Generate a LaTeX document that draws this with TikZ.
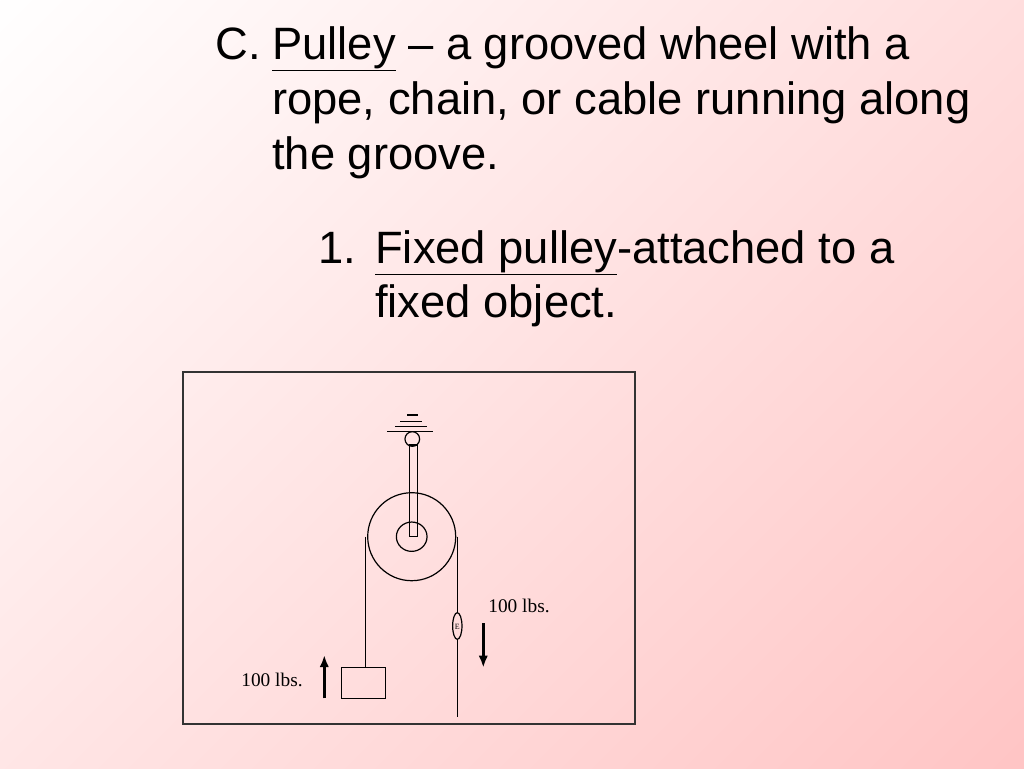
\documentclass[tikz,border=0pt]{standalone}
\usepackage{fontspec}
\usetikzlibrary{shapes.geometric,arrows.meta}
\setmainfont{Liberation Sans}
\newfontfamily\lblfont{Liberation Serif}
\definecolor{bgpink}{RGB}{255,196,196}
\begin{document}
\begin{tikzpicture}[x=0.75pt,y=-0.75pt,
  title/.style={anchor=base west,inner sep=0pt,font=\fontsize{34}{40}\selectfont},
  lbl/.style={inner sep=0pt,font=\lblfont\fontsize{14.5}{16}\selectfont},
  ln/.style={draw=black,line width=0.9pt}]
\useasboundingbox (0,0) rectangle (1024,768);
\shade[left color=white,right color=bgpink,shading angle=45] (-200,-200) rectangle (1224,968);
\node[title] (c) at (215,59) {C.};
\node[title] (t1) at (272,59) {\underline{Pulley} – a grooved wheel with a};
\node[title] (t2) at (272,114) {rope, chain, or cable running along};
\node[title] (t3) at (272,169) {the groove.};
\node[title] (n1) at (318,263) {1.};
\node[title] (s1) at (375,263) {\underline{Fixed pulley}-attached to a};
\node[title] (s2) at (375,317) {fixed object.};
% frame
\draw[line width=1.2pt,draw=black!80] (183,372) rectangle (635,724);
% ceiling
\draw[ln] (387,431.7) -- (433,431.7);
\draw[ln] (395,426.7) -- (427,426.7);
\draw[ln] (400,421.7) -- (422,421.7);
\draw[ln] (407,415) -- (418,415);
\node[draw,circle,minimum size=11pt,inner sep=0pt,line width=0.9pt] (pin) at (412.3,439) {};
% pulley
\node[draw,circle,minimum size=66pt,inner sep=0pt,line width=0.9pt] (wheel) at (411.7,536.7) {};
\node[draw,ellipse,minimum width=23pt,minimum height=22pt,inner sep=0pt,line width=0.9pt] (hub) at (411.7,536.7) {};
\draw[ln] (409.3,445) rectangle (417.3,536.7);
% ropes
\coordinate (lt) at (365.7,536.7);
\coordinate (rt) at (457.3,536.7);
\node[draw,minimum width=33pt,minimum height=23pt,inner sep=0pt,line width=0.9pt] (box) at (363.2,683) {};
\draw[ln] (lt) -- (lt|-box.north);
\node[draw,ellipse,minimum width=7pt,minimum height=20pt,inner sep=0pt,line width=0.9pt] (scale) at (457.3,626) {};
\node[lbl,font=\lblfont\fontsize{6}{6}\selectfont] at (457.3,627) {E};
\draw[ln] (rt) -- (scale.north);
\coordinate (rb) at (457.3,716.7);
\draw[ln] (scale.south) -- (rb);
% arrows
\coordinate (ua) at (324.3,698.3); \coordinate (ub) at (324.3,655);
\draw[line width=2pt,-{Latex[length=9pt,width=7pt]}] (ua) -- (ub);
\coordinate (da) at (483.3,623); \coordinate (db) at (483.3,667.7);
\draw[line width=2pt,-{Latex[length=9pt,width=7pt]}] (da) -- (db);
\node[lbl] (l1) at (272,680) {100 lbs.};
\node[lbl] (l2) at (519,606) {100 lbs.};
\end{tikzpicture}
\end{document}
